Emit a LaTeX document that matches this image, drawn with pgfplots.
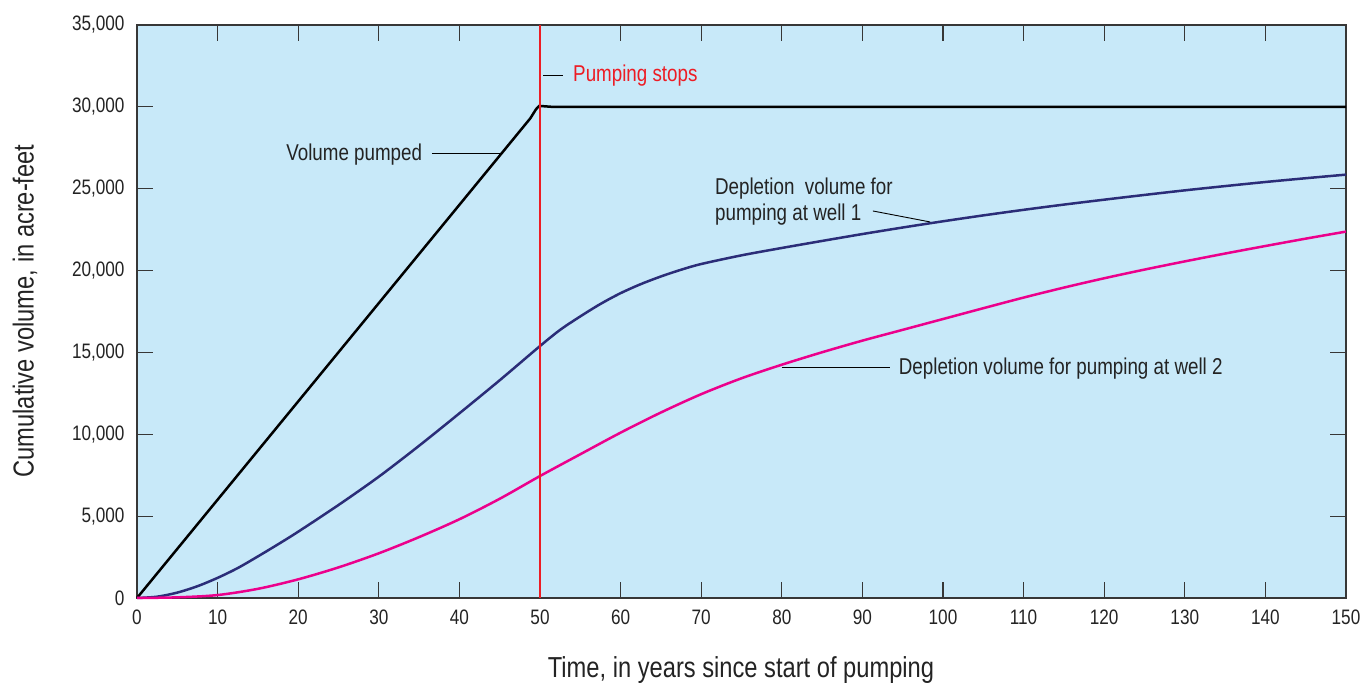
\documentclass[border=0pt]{standalone}
\usepackage{fontspec}
\setmainfont{Liberation Sans}[FakeStretch=0.82]
\usepackage{pgfplots}
\pgfplotsset{compat=1.18}
\definecolor{bgblue}{RGB}{200,233,249}
\definecolor{axisgray}{RGB}{55,55,55}
\definecolor{textgray}{RGB}{35,35,35}
\definecolor{navyline}{RGB}{43,45,120}
\definecolor{magline}{RGB}{236,0,140}
\definecolor{redline}{RGB}{237,28,36}
\begin{document}
\begin{tikzpicture}
\begin{axis}[
  scale only axis, width=1209bp, height=573bp,
  xmin=0, xmax=150, ymin=0, ymax=35000,
  xtick distance=10, ytick distance=5000,
  tick align=inside, major tick length=16bp,
  xtick pos=both, ytick pos=both, ticklabel pos=left,
  axis background/.style={fill=bgblue},
  axis line style={line width=1.6bp, color=axisgray},
  tick style={line width=1.2bp, color=axisgray},
  scaled y ticks=false,
  yticklabel style={/pgf/number format/1000 sep={,}, xshift=-9bp},
  xticklabel style={yshift=-8bp},
  /pgf/number format/assume math mode=true,
  ticklabel style={font=\fontsize{21}{21}\selectfont, text=textgray},
  clip=false,
]
\addplot[black, line width=2.5bp] coordinates {
 (0,0) (48.8,29300) (49.5,29850) (49.9,30060) (50.4,30040) (51.5,30000) (150,30000)};
\addplot[navyline, line width=2.5bp, smooth] coordinates {
 (0,0) (2.5,80) (5,330) (7.5,720) (10,1230) (12.5,1830) (15,2540) (17.5,3280)
 (20,4050) (25,5680) (30,7410) (35,9300) (40,11280) (45,13300) (50,15390)
 (52.5,16380) (55,17200) (57.5,17960) (60,18620) (62.5,19170) (65,19640)
 (67.5,20050) (70,20400) (75,20930)
 (80,21380) (85,21810) (90,22230) (95,22630) (100,23010) (105,23370)
 (110,23710) (115,24030) (120,24330) (125,24620) (130,24900) (135,25160)
 (140,25410) (145,25640) (150,25860)};
\addplot[magline, line width=2.5bp, smooth] coordinates {
 (0,0) (5,40) (10,180) (15,560) (20,1140) (25,1870) (30,2730) (35,3720)
 (40,4810) (45,6060) (50,7450) (55,8780) (60,10100) (65,11330) (70,12450)
 (75,13420) (80,14250) (85,15010) (90,15720) (95,16380) (100,17040)
 (105,17700) (110,18350) (115,18960) (120,19530) (125,20060) (130,20560)
 (135,21040) (140,21500) (145,21950) (150,22380)};
\addplot[redline, line width=2.8bp] coordinates {(50,0) (50,35000)};
% annotations
\draw[black, line width=0.9bp] (axis cs:50.4,31900) -- (axis cs:52.9,31900);
\node[anchor=west, inner sep=0pt, text=redline, font=\fontsize{23}{23}\selectfont] at (axis cs:54.1,31900) {Pumping stops};
\node[anchor=east, inner sep=0pt, text=textgray, font=\fontsize{23}{23}\selectfont] at (axis cs:35.4,27060) {Volume pumped};
\draw[black, line width=0.9bp] (axis cs:36.6,27180) -- (axis cs:45.3,27180);
\node[anchor=west, inner sep=0pt, text=textgray, align=left, font=\fontsize{23}{26}\selectfont] at (axis cs:71.7,24190) {Depletion\ \ volume for\\pumping at well 1};
\draw[black, line width=0.9bp] (axis cs:91.3,23640) -- (axis cs:98.4,22970);
\node[anchor=west, inner sep=0pt, text=textgray, font=\fontsize{23}{23}\selectfont] at (axis cs:94.5,13990) {Depletion volume for pumping at well 2};
\draw[black, line width=0.9bp] (axis cs:80.0,14110) -- (axis cs:93.4,14110);
\coordinate (sw) at (rel axis cs:0,0);
\coordinate (ne) at (rel axis cs:1,1);
\end{axis}
\node[text=textgray, font=\fontsize{29}{29}\selectfont] at ([shift={(604bp,-72bp)}]sw) {Time, in years since start of pumping};
\node[rotate=90, text=textgray, font=\fontsize{29}{29}\selectfont] at ([shift={(-112bp,287bp)}]sw) {Cumulative volume, in acre-feet};
\pgfresetboundingbox
\useasboundingbox ([shift={(-137bp,-86bp)}]sw) rectangle ([shift={(18bp,25bp)}]ne);
\end{tikzpicture}
\end{document}
